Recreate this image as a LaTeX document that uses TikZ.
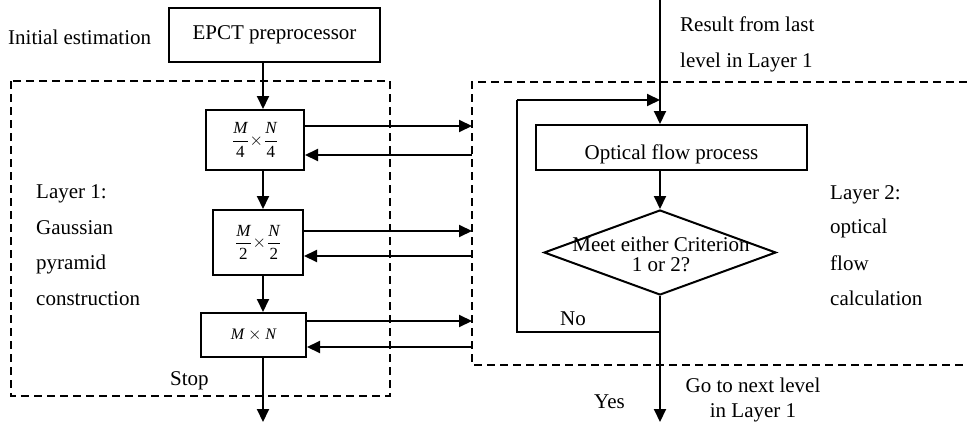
\documentclass[tikz,border=0pt]{standalone}
\usepackage{fontspec}
\setmainfont{Liberation Serif}
\usetikzlibrary{arrows.meta,shapes.geometric}
\begin{document}
\begin{tikzpicture}[x=1pt,y=-1pt,
  every node/.style={inner sep=0pt, font=\fontsize{21}{24}\selectfont},
  lbl/.style={anchor=base west},
  clbl/.style={anchor=base},
  box/.style={draw, line width=2pt, rectangle},
  mathbox/.style={box, font=\fontsize{17}{19}\selectfont},
  arr/.style={line width=2pt, -{Triangle[length=13pt,width=12pt]}},
  ln/.style={line width=2pt},
  dbox/.style={line width=1.3pt, dash pattern=on 8pt off 5pt}]
\useasboundingbox (0,0) rectangle (967,423);

% Layer boxes
\draw[dbox] (11,81) rectangle (390,396);
\draw[dbox] (967,82) -- (472,82) -- (472,365) -- (967,365);
\coordinate (l2) at (472,82);
\coordinate (ax) at (263,0);

% Left column
\node[box, minimum width=211pt, minimum height=54pt] (epct) at (274.5,35) {EPCT preprocessor};
\node[lbl] (init) at (8,45) {Initial estimation};
\node[mathbox, minimum width=98pt, minimum height=60pt] (m4) at (255,140)
  {$\displaystyle\frac{\textit{M}}{\textrm{4}}\!\times\!\frac{\textit{N}}{\textrm{4}}$};
\node[mathbox, minimum width=90pt, minimum height=65pt] (m2) at (258,242.5)
  {$\displaystyle\frac{\textit{M}}{\textrm{2}}\!\times\!\frac{\textit{N}}{\textrm{2}}$};
\node[mathbox, minimum width=105pt, minimum height=44pt, font=\fontsize{16}{18}\selectfont] (mn) at (253.5,335)
  {$\textit{M}\times\textit{N}$};

\node[lbl] (t1) at (36,198.5) {Layer 1:};
\node[lbl] (t2) at (36,234) {Gaussian};
\node[lbl] (t3) at (36,269.5) {pyramid};
\node[lbl] (t4) at (36,305) {construction};
\node[lbl] (stop) at (170,385) {Stop};

\draw[arr] (epct.south -| ax) -- (m4.north -| ax);
\draw[arr] (m4.south -| ax) -- (m2.north -| ax);
\draw[arr] (m2.south -| ax) -- (mn.north -| ax);
\coordinate (outL) at (263,422);
\draw[arr] (mn.south -| ax) -- (outL);

% Connections between layers
\draw[arr] (m4.east |- 0,126) -- (l2 |- 0,126);
\draw[arr] (l2 |- 0,155) -- (m4.east |- 0,155);
\draw[arr] (m2.east |- 0,231) -- (l2 |- 0,231);
\draw[arr] (l2 |- 0,256) -- (m2.east |- 0,256);
\draw[arr] (mn.east |- 0,321) -- (l2 |- 0,321);
\draw[arr] (l2 |- 0,347) -- (mn.east |- 0,347);

% Right column
\node[box, minimum width=271pt, minimum height=45pt] (ofp) at (671.5,147.5) {};
\node[clbl] (ofpt) at (671.5,159) {Optical flow process};
\node[draw, line width=2pt, diamond, minimum width=232pt, minimum height=85pt] (dia) at (660,252.5) {};
\node[clbl] (d1) at (661,251) {Meet either Criterion};
\node[clbl] (d2) at (661,271) {1 or 2?};

\coordinate (top) at (660,0);
\coordinate (loopc) at (517,100);
\coordinate (junc) at (660,332);
\coordinate (outR) at (660,422);
\draw[arr] (top) -- (top |- ofp.north);
\draw[arr] (ofp.south -| dia.north) -- (dia.north);
\draw[ln] (dia.south) -- (junc);
\draw[arr] (junc) -- (outR);
\draw[ln] (junc) -- (loopc |- junc) -- (loopc);
\draw[arr] (loopc) -- (top |- loopc);

\node[lbl] (r1) at (680,31) {Result from last};
\node[lbl] (r2) at (680,67) {level in Layer 1};
\node[lbl] (l21) at (830,199) {Layer 2:};
\node[lbl] (l22) at (830,233) {optical};
\node[lbl] (l23) at (830,270) {flow};
\node[lbl] (l24) at (830,305) {calculation};
\node[lbl] (no) at (560,325) {No};
\node[lbl] (yes) at (594,408) {Yes};
\node[clbl] (g1) at (753,392) {Go to next level};
\node[clbl] (g2) at (753,417) {in Layer 1};
\end{tikzpicture}
\end{document}
